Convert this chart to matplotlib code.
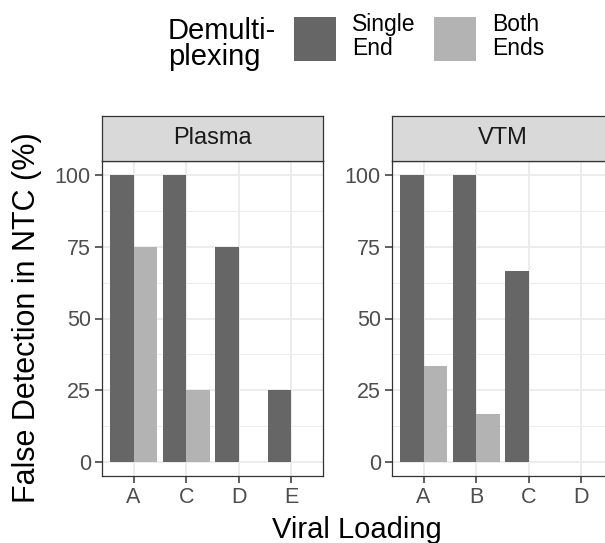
import numpy as np
import matplotlib
matplotlib.use("Agg")
import matplotlib.pyplot as plt
from matplotlib.patches import Patch

plt.rcParams['font.family'] = ['Liberation Sans', 'DejaVu Sans']

facets = ['Plasma', 'VTM']
categories = {'Plasma': ['A', 'C', 'D', 'E'],
              'VTM': ['A', 'B', 'C', 'D']}
single_end = {'Plasma': [100, 100, 75, 25],
              'VTM': [100, 100, 66.67, 0]}
both_ends = {'Plasma': [75, 25, 0, 0],
             'VTM': [33.33, 16.67, 0, 0]}
series_labels = ['Single\nEnd', 'Both\nEnds']
y_ticks = [0, 25, 50, 75, 100]

dark = '#666666'
light = '#b3b3b3'
grid_col = '#ebebeb'
border = '#333333'

W, H = 605, 543
fig = plt.figure(figsize=(W / 100, H / 100), dpi=100)

def fx(px):
    return px / W

def fy(px):
    return 1 - px / H

panel_left = [102, 392]
panel_w = 221
panel_top, panel_bot = 161, 476
strip_top = 116

bar_w = 0.45
for name, left in zip(facets, panel_left):
    ax = fig.add_axes([fx(left), fy(panel_bot), fx(panel_w), (panel_bot - panel_top) / H])
    x = np.arange(len(categories[name]))
    ax.bar(x - bar_w / 2, single_end[name], width=bar_w, color=dark, zorder=3)
    ax.bar(x + bar_w / 2, both_ends[name], width=bar_w, color=light, zorder=3)
    ax.set_xlim(-0.6, len(x) - 0.4)
    ax.set_ylim(-5, 105)
    ax.set_xticks(x)
    ax.set_xticklabels(categories[name])
    ax.set_yticks(y_ticks)
    ax.set_yticks([12.5, 37.5, 62.5, 87.5], minor=True)
    ax.grid(True, which='major', color=grid_col, lw=1.3, zorder=0)
    ax.grid(True, which='minor', axis='y', color=grid_col, lw=0.65, zorder=0)
    ax.set_axisbelow(True)
    for s in ax.spines.values():
        s.set_color(border)
        s.set_linewidth(0.9)
    ax.tick_params(which='major', length=5, width=1.1, color=border,
                   labelsize=15.5, labelcolor='#4d4d4d', pad=3)
    ax.tick_params(which='minor', length=0)

    sax = fig.add_axes([fx(left), fy(panel_top), fx(panel_w), (panel_top - strip_top) / H])
    sax.set_facecolor('#d9d9d9')
    sax.set_xticks([])
    sax.set_yticks([])
    for s in sax.spines.values():
        s.set_color(border)
        s.set_linewidth(0.9)
    sax.text(0.5, 0.5, name, ha='center', va='center', fontsize=17,
             color='#1a1a1a', transform=sax.transAxes)

fig.text(fx(27), fy(317.5), 'False Detection in NTC (%)', rotation=90,
         ha='center', va='center', fontsize=22)
fig.text(fx(357), fy(538), 'Viral Loading', ha='center', va='baseline', fontsize=21)

fig.text(fx(168), fy(44), 'Demulti-\nplexing', ha='left', va='center',
         fontsize=21, linespacing=0.95)
handles = [Patch(facecolor=dark), Patch(facecolor=light)]
leg = fig.legend(handles, series_labels, loc='center left', bbox_to_anchor=(fx(289), fy(37)),
                 ncol=2, frameon=False, fontsize=16.5, handlelength=1.83, handleheight=2.58,
                 handletextpad=0.72, columnspacing=0.8, borderpad=0.2, borderaxespad=0,
                 labelspacing=0)
for t in leg.get_texts():
    t.set_linespacing(1.05)

fig.savefig('out.png', dpi=100)
